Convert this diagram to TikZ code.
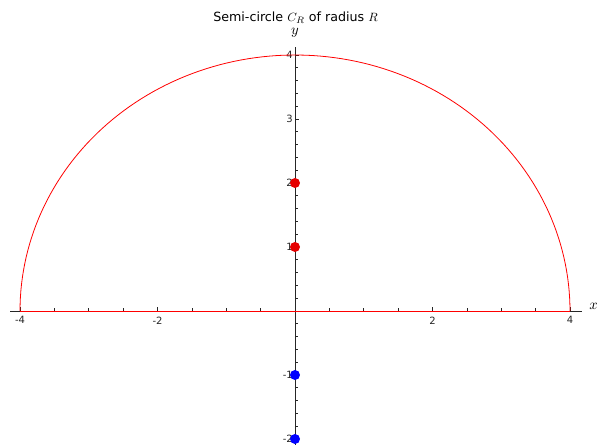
\documentclass[tikz,border=0pt]{standalone}
\usepackage{fontspec}
\setmainfont{DejaVu Sans}
\begin{document}
\begin{tikzpicture}[x=0.75pt,y=0.75pt,
  axis/.style={draw=black!85,line width=0.6pt},
  tick/.style={draw=black!85,line width=0.5pt},
  ticklab/.style={font=\fontsize{7.5}{9}\selectfont,inner sep=0pt,text=black!85},
  curve/.style={draw=red,line width=0.6pt},
  rdot/.style={circle,fill=red!90!black,draw=none,minimum size=7.5pt,inner sep=0pt},
  bdot/.style={circle,fill=blue,draw=none,minimum size=7.5pt,inner sep=0pt}]
\useasboundingbox (0,0) rectangle (597,445);
\node[font=\fontsize{9.5}{11}\selectfont] (title) at (295.5,427) {Semi-circle $C_R$ of radius $R$};
\begin{scope}[shift={(295,134)},x=51.5625pt,y=48pt]
  % axes
  \coordinate (xl) at (-4.145,0);
  \coordinate (xr) at (4.175,0);
  \coordinate (yb) at (0,-2.1);
  \coordinate (yt) at (0,4.125);
  \draw[axis] (xl) -- (xr);
  \draw[axis] (yb) -- (yt);
  % x ticks
  \foreach \t in {-4,-3.5,...,4.01} {
    \draw[tick] (\t,0) -- ++(0,2pt);
  }
  \foreach \t in {-4,-2,2,4} {
    \draw[tick] (\t,0) -- ++(0,3pt);
    \node[ticklab,anchor=north] (xt\t) at ([yshift=-4pt]\t,0) {\t};
  }
  % y ticks
  \foreach \t in {-2,-1.8,...,4.01} {
    \draw[tick] (0,\t) -- ++(2pt,0);
  }
  \foreach \t in {-2,-1,1,2,3,4} {
    \draw[tick] (0,\t) -- ++(3pt,0);
    \node[ticklab,anchor=east] (yt\t) at ([xshift=-1.5pt]0,\t) {\t};
  }
  % curve
  \draw[curve] plot[domain=0:180,samples=120] ({4*cos(\x)},{4*sin(\x)});
  \draw[curve] (-4,0) -- (4,0);
  % points
  \node[rdot] (p2) at (0,2) {};
  \node[rdot] (p1) at (0,1) {};
  \node[bdot] (m1) at (0,-1) {};
  \node[bdot] (m2) at (0,-2) {};
\end{scope}
\node[font=\fontsize{11}{12}\selectfont] (ylab) at (295,412) {$y$};
\node[font=\fontsize{11}{12}\selectfont,anchor=west,inner sep=0pt] (xlab) at (589,139) {$x$};
\end{tikzpicture}
\end{document}
